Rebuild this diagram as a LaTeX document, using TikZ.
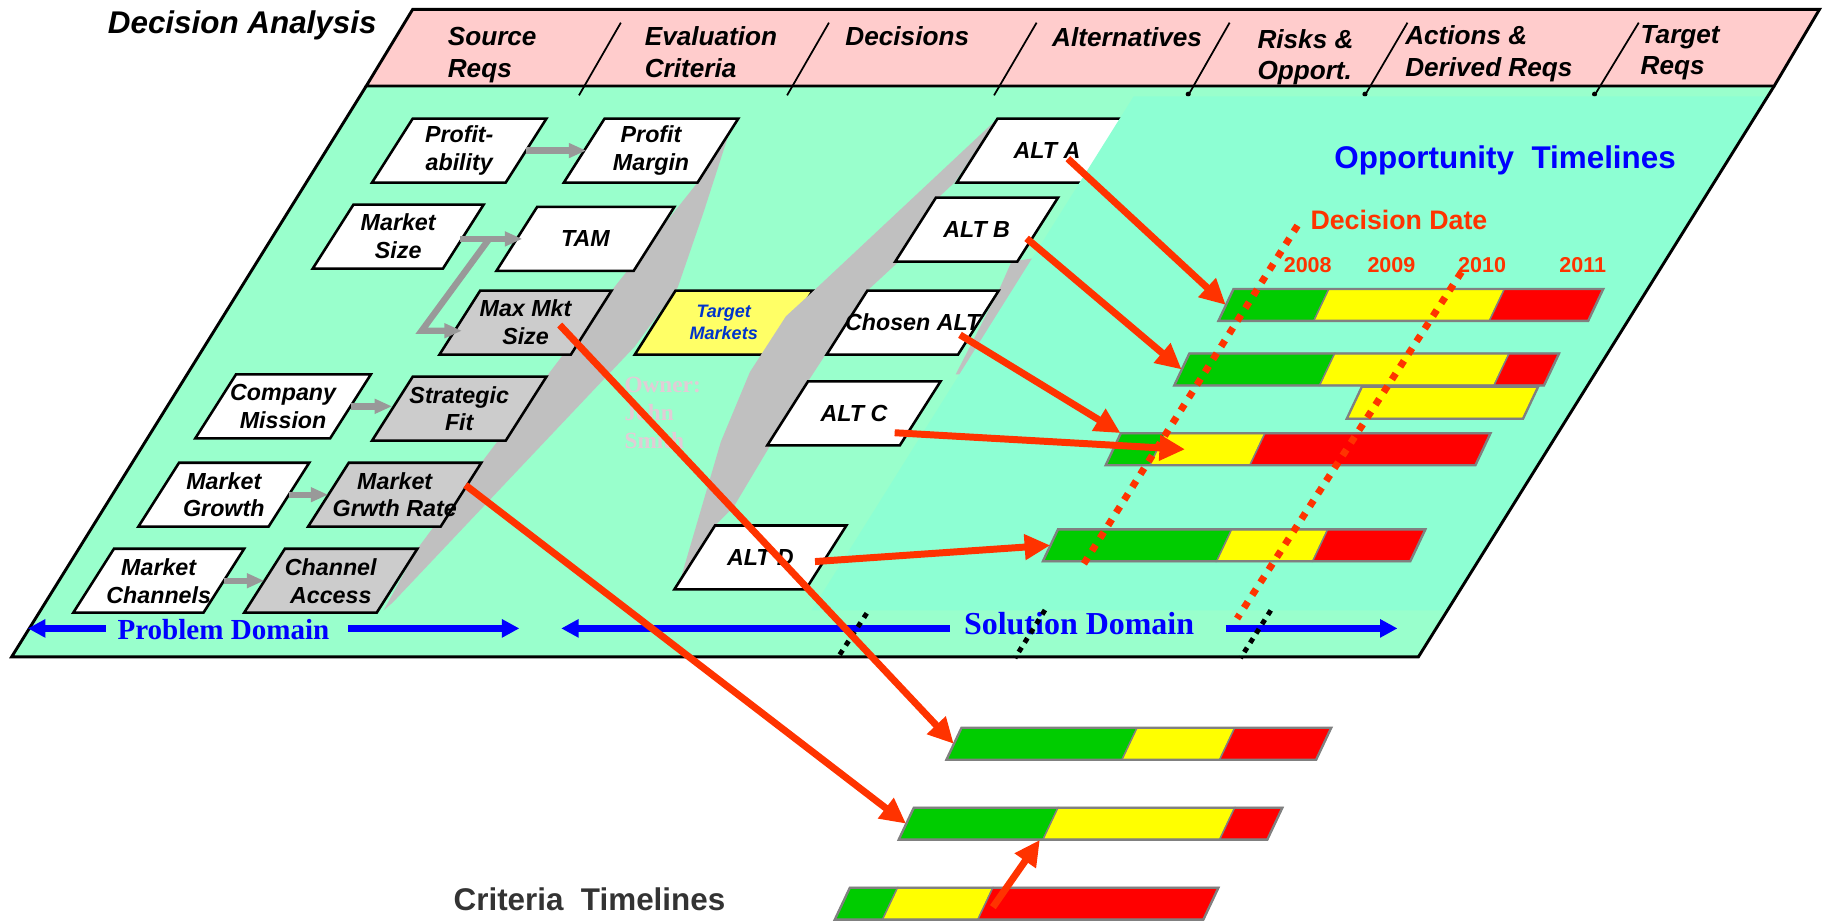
\documentclass[tikz,border=0pt]{standalone}
\usepackage{fontspec}
\setmainfont{Liberation Sans}
\newfontfamily\timesfont{Liberation Serif}
\usetikzlibrary{arrows.meta,calc}

\definecolor{planegreen}{HTML}{99FFCC}
\definecolor{zonegreen}{HTML}{8DFFD3}
\definecolor{headpink}{HTML}{FFCCCC}
\definecolor{wedgegray}{HTML}{C0C0C0}
\definecolor{boxgray}{HTML}{CCCCCC}
\definecolor{boxyellow}{HTML}{FFFF66}
\definecolor{linkgray}{HTML}{999999}
\definecolor{flowred}{HTML}{FF3300}
\definecolor{domainblue}{HTML}{0000FF}
\definecolor{tmblue}{HTML}{0033CC}
\definecolor{tlgreen}{HTML}{00CC00}
\definecolor{tlyellow}{HTML}{FFFF00}
\definecolor{tlred}{HTML}{FF0000}
\definecolor{framegray}{HTML}{808080}
\definecolor{ownerpink}{HTML}{E2CCD6}
\definecolor{captiongray}{HTML}{333333}

\tikzset{
  boxline/.style={draw=black, line width=2.2pt},
  boxtext/.style={inner sep=0pt, minimum height=55pt, align=center,
    font=\fontsize{20}{24}\selectfont\bfseries\itshape},
  tmlabel/.style={text=tmblue, font=\fontsize{15.5}{18.5}\selectfont\bfseries\itshape},
  headtext/.style={anchor=base west, inner sep=0pt,
    font=\fontsize{22.5}{27}\selectfont\bfseries\itshape},
  divider/.style={line width=1.5pt},
  linkarrow/.style={draw=linkgray, line width=5.5pt, -{Triangle[length=15pt,width=12pt]}},
  flow/.style={draw=flowred, line width=6pt, -{Triangle[length=22pt,width=21pt]}},
  domainarrow/.style={draw=domainblue, line width=6.6pt, -{Triangle[length=15pt,width=15pt]}},
  segline/.style={draw=framegray, line width=1.2pt},
  barframe/.style={draw=framegray, line width=2pt},
  barnode/.style={inner sep=0pt, minimum height=27.5pt},
  datemark/.style={draw=flowred, line width=6pt, dash pattern=on 6pt off 7pt},
  edgemark/.style={draw=black, line width=4.2pt, dash pattern=on 4.5pt off 5pt},
  yearlabel/.style={anchor=base west, inner sep=0pt, text=flowred,
    font=\fontsize{18.5}{22}\selectfont\bfseries},
}

% left-aligned stack of lines whose baseline is the first line
\newcommand\stackl[1]{\begin{tabular}[t]{@{}l@{}}#1\end{tabular}}

% slanted box: [node options]{name}{top-left x}{top y}{width}{fill}{text}
\newcommand\pgbox[7][]{%
  \filldraw[boxline, fill=#6] (#3,#4) -- ++(#5,0) -- ++(-35,55) -- ++(-#5,0) -- cycle;
  \node[boxtext, minimum width=#5pt, #1] (#2) at ({#3+#5/2-17.5},{#4+27.5}) {#7};
}

% one coloured piece of a timeline bar: {colour}{top y}{x from}{x to}
\newcommand\tseg[4]{%
  \filldraw[segline, fill=#1] (#3,#2) -- (#4,#2) -- ({#4-13},{#2+27.5}) -- ({#3-13},{#2+27.5}) -- cycle;}

% green / yellow / red timeline bar: {name}{top y}{x0}{x1}{x2}{x3}
\newcommand\tbar[6]{%
  \tseg{tlgreen}{#2}{#3}{#4}%
  \tseg{tlyellow}{#2}{#4}{#5}%
  \tseg{tlred}{#2}{#5}{#6}%
  \draw[barframe] (#3,#2) -- (#6,#2) -- ({#6-13},{#2+27.5}) -- ({#3-13},{#2+27.5}) -- cycle;
  \pgfmathsetmacro\barw{#6-#3}%
  \node[barnode, minimum width=\barw pt] (#1) at ({(#3+#6)/2-6.5},{#2+13.75}) {};
}

\begin{document}
\begin{tikzpicture}[x=1pt,y=-1pt]
\useasboundingbox (0,0) rectangle (1568,792);

% ground plane and header band
\fill[planegreen] (315,74) -- (1526,74) -- (1220,565) -- (10,565) -- cycle;
\filldraw[fill=headpink, draw=black, line width=2.5pt] (355,8) -- (1565,8) -- (1526,74) -- (315,74) -- cycle;
\foreach \a/\b in {534/498, 713/677, 891.6/855, 1057.6/1022, 1210.6/1174, 1409.5/1371.5}
  \draw[divider] (\a,19.5) -- (\b,82);
\foreach \b in {1022, 1174, 1371.5}
  \fill (\b,81) circle (2.2);

\node[anchor=base west, inner sep=0pt, font=\fontsize{27}{32}\selectfont\bfseries\itshape]
  (title) at (92.6,28.7) {Decision Analysis};

\node[headtext] (hsource) at (385,39.3) {\stackl{Source\\Reqs}};
\node[headtext] (heval) at (554.4,39.3) {\stackl{Evaluation\\Criteria}};
\node[headtext] (hdec) at (727,39.3) {Decisions};
\node[headtext] (halt) at (904.8,40) {Alternatives};
\node[headtext] (hrisk) at (1081.4,41.6) {\stackl{Risks \&\\Opport.}};
\node[headtext] (hact) at (1208.5,38.7) {\stackl{Actions \&\\Derived Reqs}};
\node[headtext] (htarget) at (1411,37.3) {\stackl{Target\\Reqs}};

% funnel from the criteria column
\fill[wedgegray] (600,157) -- (636,102) -- (626,118) -- (605,183) -- (583,247) -- (546,298)
  -- (338,518) -- (330,525) -- (359,472) -- (414,398) -- (470,324) -- (526,250) -- cycle;

% source requirements and criteria
\pgbox{profitability}{355}{102}{115}{white}{Profit-\\ability}
\pgbox{profitmargin}{520}{102}{115}{white}{Profit\\Margin}
\pgbox{marketsize}{304}{176}{112}{white}{Market\\Size}
\pgbox{tam}{462}{178}{118}{white}{TAM}
\pgbox{maxmkt}{413}{250}{113}{boxgray}{Max Mkt\\Size}
\pgbox{companymission}{203}{322}{116}{white}{Company\\Mission}
\pgbox{strategicfit}{355}{324}{115}{boxgray}{Strategic\\Fit}
\pgbox{marketgrowth}{154}{398}{112}{white}{Market\\Growth}
\pgbox{mgrate}{300}{398}{114}{boxgray}{Market\\Grwth Rate}
\pgbox{marketchannels}{98}{472}{112}{white}{Market\\Channels}
\pgbox{channelaccess}{245}{472}{114}{boxgray}{Channel\\Access}
\pgbox[tmlabel]{targetmk}{581}{250}{118}{boxyellow}{Target\\Markets}

% funnel from the decision to the alternatives
\fill[wedgegray] (858,102) -- (821,157) -- (807,170) -- (773,225) -- (746,250) -- (710,305)
  -- (695,328) -- (662,384) -- (631,436) -- (615,452) -- (586,496) -- (620,380)
  -- (645,320) -- (676,272) -- (700,250) -- cycle;
\fill[wedgegray] (890,222) -- (832,322) -- (822,322) -- (859,250) -- (870,225) -- cycle;

\node[anchor=base west, inner sep=0pt, text=ownerpink,
  font=\fontsize{20}{24}\selectfont\timesfont\bfseries] (owner) at (537,338) {\stackl{Owner:\\John\\Smith}};

% alternatives
\pgbox{alta}{858}{102}{120}{white}{ALT A}
\pgbox{altb}{805}{170}{105}{white}{ALT B}
\pgbox{chosenalt}{746}{250}{113}{white}{Chosen ALT}
\pgbox{altc}{695}{328}{114}{white}{ALT C}
\pgbox{altd}{615}{452}{113}{white}{ALT D}

% opportunity zone
\fill[zonegreen] (975,83) -- (1520.3,83) -- (1244.5,525) -- (698,525) -- cycle;

% plane outline
\draw[line width=2.5pt, line join=miter] (315,74) -- (10,565) -- (1220,565) -- (1526,74);

% small links between requirements and criteria
\draw[linkarrow] (profitability.east) -- ($(profitmargin.west)+(2,0)$);
\coordinate (msout) at ($(marketsize.east)+(-3,2)$);
\draw[linkarrow] (msout) -- ($(tam.west)+(5,0)$);
\draw[linkarrow] ($(msout)+(25,0)$) -- ++(-58,79) -- ($(maxmkt.west)+(2,7)$);
\draw[linkarrow] (companymission.east) -- (companymission.east -| strategicfit.west);
\draw[linkarrow] (marketgrowth.east) -- (mgrate.west);
\draw[linkarrow] (marketchannels.east) -- (channelaccess.west);

% opportunity timelines
\node[anchor=base west, inner sep=0pt, text=domainblue, font=\fontsize{27}{32}\selectfont\bfseries]
  (opptitle) at (1147.6,144.6) {Opportunity\ \ Timelines};
\node[anchor=base west, inner sep=0pt, text=flowred, font=\fontsize{23}{27}\selectfont\bfseries]
  (decdate) at (1127,197) {Decision Date};
\node[yearlabel] (y2008) at (1104,234) {2008};
\node[yearlabel] (y2009) at (1176,234) {2009};
\node[yearlabel] (y2010) at (1254,234) {2010};
\node[yearlabel] (y2011) at (1341,234) {2011};

\tbar{bar1}{248.5}{1061}{1143}{1294}{1379}
\tbar{bar2}{304}{1023}{1148}{1298}{1341}
\tseg{tlyellow}{332.6}{1171.4}{1323}
\draw[barframe] (1171.4,332.6) -- (1323,332.6) -- (1310,360.1) -- (1158.4,360.1) -- cycle;
\tbar{bar3}{372.7}{964}{1002}{1088}{1282}
\tbar{bar4}{455.3}{910}{1059.4}{1142}{1226}

% decision dates
\coordinate (dd1top) at (1116,194);
\coordinate (dd1bot) at (929,490);
\coordinate (dd2top) at (1257,234);
\coordinate (dd2bot) at (1064,532);
\draw[datemark] (dd1top) -- (dd1bot);
\draw[datemark] (dd2top) -- (dd2bot);

% criteria timelines
\tbar{crit1}{626}{827}{978}{1062}{1145}
\tbar{crit2}{694.7}{786}{910}{1062}{1103}
\tbar{crit3}{763.5}{731}{772}{854}{1048}
\node[anchor=base west, inner sep=0pt, text=captiongray, font=\fontsize{27}{32}\selectfont\bfseries]
  (crittitle) at (390,783.3) {Criteria\ \ Timelines};

% domains
\coordinate (pdL) at (24,540.5);
\coordinate (pdR) at (446.7,540.5);
\coordinate (sdL) at (482.7,540.5);
\coordinate (sdR) at (1202,540.5);
\node[anchor=base west, inner sep=0pt, text=domainblue, font=\fontsize{25}{30}\selectfont\timesfont\bfseries]
  (probdom) at (100.9,550) {Problem Domain};
\node[anchor=base west, inner sep=0pt, text=domainblue, font=\fontsize{27.5}{32}\selectfont\timesfont\bfseries]
  (soldom) at (829,546) {Solution Domain};
\draw[domainarrow, shorten <=10pt] (probdom.west |- pdL) -- (pdL);
\draw[domainarrow, shorten <=16pt] (probdom.east |- pdR) -- (pdR);
\draw[domainarrow, shorten <=12pt] (soldom.west |- sdL) -- (sdL);
\draw[domainarrow, shorten <=27pt] (soldom.east |- sdR) -- (sdR);

\draw[edgemark] (745.5,527.5) -- (721,565);
\draw[edgemark] (898.8,524.7) -- (873,566);
\draw[edgemark] (1093,525) -- (1067,566);

% flows from alternatives and criteria to their timelines
\draw[flow] ($(alta.center)+(18,7)$) -- (bar1.west);
\draw[flow] ($(altb.center)+(43,7.5)$) -- (bar2.west);
\draw[flow] ($(chosenalt.center)+(40.7,10.5)$) -- ($(bar3.north west)+(6.5,0)$);
\draw[flow] ($(altc.center)+(35,16.7)$) -- ($(bar3.west)+(62,0)$);
\draw[flow] ($(altd.center)+(47,3.5)$) -- (bar4.west);
\draw[flow] ($(maxmkt.center)+(29.4,2)$) -- (crit1.west);
\draw[flow] ($(mgrate.center)+(60.8,-8.3)$) -- (crit2.west);
\draw[flow] ($(crit3.center)+(-29,3)$) -- ($(crit2.south)+(-43.6,0)$);
\end{tikzpicture}
\end{document}
